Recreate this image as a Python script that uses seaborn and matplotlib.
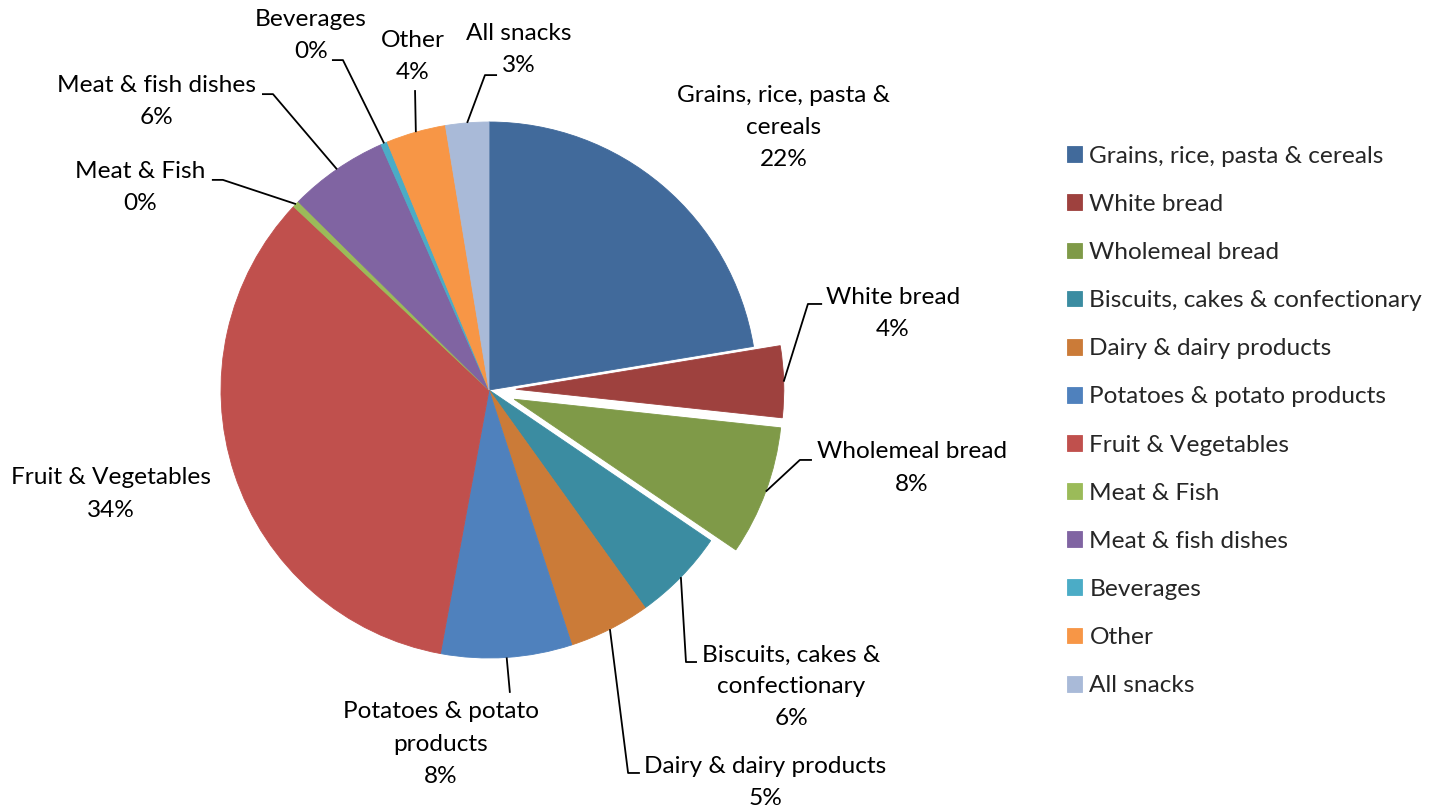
import numpy as np
import matplotlib
matplotlib.use("Agg")
import matplotlib.pyplot as plt
import seaborn as sns

# Food group shares of the total (percent)
categories = [
    "Grains, rice, pasta & cereals",
    "White bread",
    "Wholemeal bread",
    "Biscuits, cakes & confectionary",
    "Dairy & dairy products",
    "Potatoes & potato products",
    "Fruit & Vegetables",
    "Meat & Fish",
    "Meat & fish dishes",
    "Beverages",
    "Other",
    "All snacks",
]
shares = [22.4, 4.3, 7.8, 5.6, 4.9, 7.9, 34.1, 0.4, 6.0, 0.4, 3.6, 2.6]

# Wrapped names used for the slice labels
slice_names = [
    "Grains, rice, pasta &\ncereals",
    "White bread",
    "Wholemeal bread",
    "Biscuits, cakes &\nconfectionary",
    "Dairy & dairy products",
    "Potatoes & potato\nproducts",
    "Fruit & Vegetables",
    "Meat & Fish",
    "Meat & fish dishes",
    "Beverages",
    "Other",
    "All snacks",
]

colors = [
    "#416A9B", "#9E413E", "#7F9A48", "#3B8CA1", "#CB7B38", "#4F81BD",
    "#C0504D", "#9BBB59", "#8064A2", "#4BACC6", "#F79646", "#A9BAD8",
]
explode = [0, 0.1, 0.1, 0, 0, 0, 0, 0, 0, 0, 0, 0]

# Label centres, in units of the pie radius
label_pos = [
    (1.100, 0.981), (1.507, 0.287), (1.578, -0.291), (1.127, -1.108),
    (1.030, -1.463), (-0.179, -1.321), (-1.410, -0.388), (-1.302, 0.754),
    (-1.239, 1.075), (-0.664, 1.321), (-0.284, 1.243), (0.112, 1.269),
]
# Leader line bend and end points (radius units); None where no leader is drawn
leader_pts = [
    None,
    [(1.190, 0.321), (1.243, 0.321)],
    [(1.160, -0.261), (1.205, -0.261)],
    [(0.735, -1.015), (0.776, -1.015)],
    [(0.519, -1.429), (0.563, -1.429)],
    [(0.078, -1.130)],
    None,
    [(-0.993, 0.784), (-1.034, 0.784)],
    [(-0.806, 1.104), (-0.847, 1.104)],
    [(-0.545, 1.231), (-0.586, 1.231)],
    [(-0.276, 1.119)],
    [(-0.015, 1.175), (0.030, 1.175)],
]

sns.set_theme(style="white")
plt.rcParams["font.family"] = ["Lato", "DejaVu Sans"]

W, H, DPI = 1431, 811, 100
CX, CY, R = 489, 390, 268
FS = 17.6

fig = plt.figure(figsize=(W / DPI, H / DPI), dpi=DPI)
fig.patch.set_facecolor("white")
ax = fig.add_axes([0, 0, 1, 1])

wedges, _ = ax.pie(
    shares, colors=colors, explode=explode, startangle=90,
    counterclock=False, radius=1, wedgeprops=dict(linewidth=0),
)
# hide antialiasing seams between touching slices
for w in wedges:
    w.set_edgecolor(w.get_facecolor())
    w.set_linewidth(0.6)

ax.set_xlim(-CX / R, (W - CX) / R)
ax.set_ylim(-(H - CY) / R, CY / R)
ax.set_aspect("equal")
ax.axis("off")

total = sum(shares)
for w, name, share, pos, pts in zip(wedges, slice_names, shares, label_pos, leader_pts):
    pct = round(share / total * 100)
    ax.text(pos[0], pos[1], f"{name}\n{pct}%", ha="center", va="center",
            fontsize=FS, color="black", linespacing=1.65)
    if pts is not None:
        mid = np.deg2rad((w.theta1 + w.theta2) / 2)
        sx = w.center[0] + w.r * np.cos(mid)
        sy = w.center[1] + w.r * np.sin(mid)
        xs = [sx] + [p[0] for p in pts]
        ys = [sy] + [p[1] for p in pts]
        ax.plot(xs, ys, color="black", lw=1.3, solid_capstyle="butt")

fig.legend(
    wedges, categories, loc="center left",
    bbox_to_anchor=(1067 / W, 1 - 421 / H), frameon=False,
    fontsize=FS, handlelength=0.62, handleheight=0.62, handletextpad=0.3,
    labelspacing=1.11, borderpad=0, borderaxespad=0,
)

fig.savefig("out.png", dpi=DPI, facecolor="white")
